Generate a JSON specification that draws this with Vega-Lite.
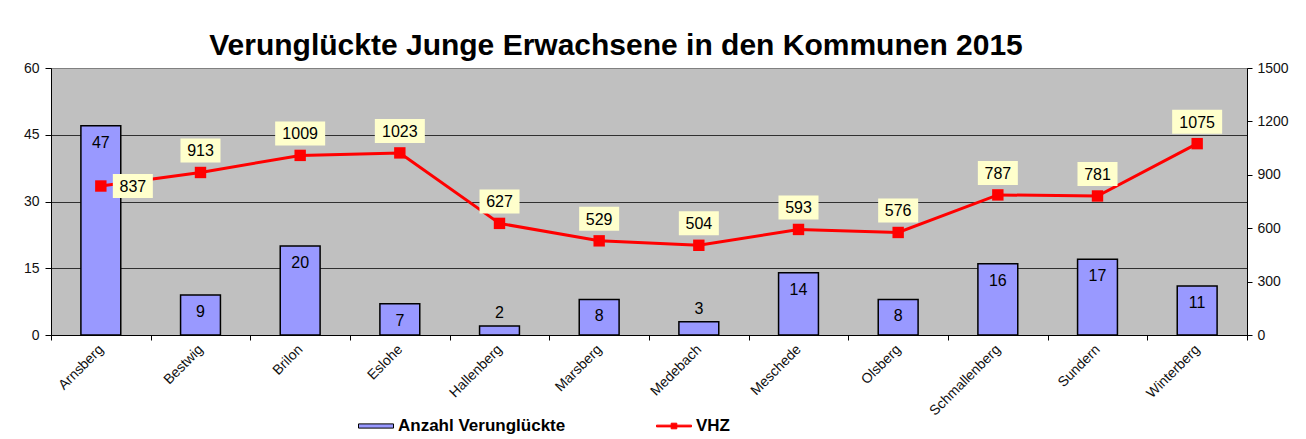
{
  "$schema": "https://vega.github.io/schema/vega-lite/v6.json",
  "width": 1196,
  "height": 267,
  "autosize": {"type": "none"},
  "padding": {"left": 51, "top": 68, "right": 59, "bottom": 104},
  "background": "white",
  "config": {
    "view": {"stroke": "#808080", "strokeWidth": 1, "fill": "#c0c0c0"},
    "font": "Liberation Sans",
    "axis": {"labelFont": "Liberation Sans", "labelColor": "#111", "labelFontSize": 14, "domainColor": "#000", "tickColor": "#000", "domainWidth": 1, "tickWidth": 1}
  },
  "title": {
    "text": "Verunglückte Junge Erwachsene in den Kommunen 2015",
    "font": "Liberation Sans", "fontSize": 30, "fontWeight": "bold", "color": "#000",
    "frame": "group", "anchor": "middle", "dx": -33, "dy": 35, "baseline": "alphabetic", "offset": 11
  },
  "data": {
    "values": [
      {"Gemeinde": "Arnsberg", "Anzahl": 47, "VHZ": 837},
      {"Gemeinde": "Bestwig", "Anzahl": 9, "VHZ": 913},
      {"Gemeinde": "Brilon", "Anzahl": 20, "VHZ": 1009},
      {"Gemeinde": "Eslohe", "Anzahl": 7, "VHZ": 1023},
      {"Gemeinde": "Hallenberg", "Anzahl": 2, "VHZ": 627},
      {"Gemeinde": "Marsberg", "Anzahl": 8, "VHZ": 529},
      {"Gemeinde": "Medebach", "Anzahl": 3, "VHZ": 504},
      {"Gemeinde": "Meschede", "Anzahl": 14, "VHZ": 593},
      {"Gemeinde": "Olsberg", "Anzahl": 8, "VHZ": 576},
      {"Gemeinde": "Schmallenberg", "Anzahl": 16, "VHZ": 787},
      {"Gemeinde": "Sundern", "Anzahl": 17, "VHZ": 781},
      {"Gemeinde": "Winterberg", "Anzahl": 11, "VHZ": 1075}
    ]
  },
  "encoding": {
    "x": {
      "field": "Gemeinde", "type": "nominal", "sort": null,
      "scale": {"paddingInner": 0, "paddingOuter": 0},
      "axis": {"title": null, "labelAngle": -45, "labelAlign": "right", "labelBaseline": "middle", "tickBand": "extent", "tickSize": 5, "labelPadding": 7, "grid": false}
    }
  },
  "layer": [
    {
      "encoding": {
        "y": {
          "field": "Anzahl", "type": "quantitative",
          "scale": {"domain": [0, 60], "nice": false},
          "axis": {
            "title": null, "orient": "left", "values": [0, 15, 30, 45, 60],
            "tickSize": 6, "labelPadding": 6, "grid": true, "gridWidth": 1,
            "gridColor": {"condition": {"test": "datum.value === 60", "value": "#808080"}, "value": "#303030"}
          }
        }
      },
      "layer": [
        {
          "mark": {"type": "bar", "stroke": "#000", "strokeWidth": 1.5, "width": {"band": 0.4}},
          "encoding": {
            "color": {
              "datum": "Anzahl Verunglückte",
              "scale": {"domain": ["Anzahl Verunglückte", "VHZ"], "range": ["#9999ff", "#ff0000"]},
              "legend": {
                "orient": "none", "legendX": 307, "legendY": 340, "direction": "horizontal",
                "title": null, "padding": 0, "symbolSize": 1225, "labelLimit": 0,
                "symbolType": {"expr": "datum.value === 'VHZ' ? 'M-1,-0.05H1V0.05H-1Z M-0.16,-0.16H0.16V0.16H-0.16Z' : 'M-1,-0.12H1V0.12H-1Z'"},
                "symbolStrokeColor": {"expr": "datum.value === 'VHZ' ? '#ff0000' : '#000000'"},
                "symbolStrokeWidth": 1,
                "symbolOpacity": 1,
                "labelFont": "Liberation Sans", "labelFontSize": 17, "labelFontWeight": "bold", "labelColor": "#000",
                "labelOffset": 4, "columnPadding": 88
              }
            }
          }
        },
        {
          "transform": [{"filter": "datum.Anzahl >= 5"}],
          "mark": {"type": "text", "fontSize": 16, "font": "Liberation Sans", "color": "#000", "baseline": "middle", "dy": 17},
          "encoding": {"text": {"field": "Anzahl", "type": "quantitative"}}
        },
        {
          "transform": [{"filter": "datum.Anzahl < 5"}],
          "mark": {"type": "text", "fontSize": 16, "font": "Liberation Sans", "color": "#000", "baseline": "middle", "dy": -13},
          "encoding": {"text": {"field": "Anzahl", "type": "quantitative"}}
        }
      ]
    },
    {
      "encoding": {
        "y": {
          "field": "VHZ", "type": "quantitative",
          "scale": {"domain": [0, 1500], "nice": false},
          "axis": {"title": null, "orient": "right", "values": [0, 300, 600, 900, 1200, 1500], "format": "d", "tickSize": 5, "labelPadding": 5, "grid": false}
        }
      },
      "layer": [
        {
          "mark": {"type": "line", "strokeWidth": 3, "color": "#ff0000"},
          "encoding": {}
        },
        {
          "mark": {"type": "point", "shape": "square", "filled": true, "size": 130, "fill": "#ff0000", "opacity": 1, "strokeWidth": 0}
        },
        {
          "transform": [{"filter": "datum.Gemeinde !== 'Arnsberg'"}],
          "mark": {"type": "point", "filled": true, "fill": "#ffffcc", "opacity": 1, "strokeWidth": 0, "size": 2500, "yOffset": -22},
          "encoding": {"shape": {"condition": {"test": "datum.VHZ >= 1000", "value": "M-1,-0.48H1V0.48H-1Z"}, "value": "M-0.8,-0.48H0.8V0.48H-0.8Z"}}
        },
        {
          "transform": [{"filter": "datum.Gemeinde === 'Arnsberg'"}],
          "mark": {"type": "point", "filled": true, "fill": "#ffffcc", "opacity": 1, "strokeWidth": 0, "size": 2500, "xOffset": 32},
          "encoding": {"shape": {"value": "M-0.8,-0.48H0.8V0.48H-0.8Z"}}
        },
        {
          "transform": [{"filter": "datum.Gemeinde !== 'Arnsberg'"}],
          "mark": {"type": "text", "fontSize": 16, "font": "Liberation Sans", "color": "#000", "baseline": "middle", "yOffset": -21},
          "encoding": {"text": {"field": "VHZ", "type": "quantitative", "format": "d"}}
        },
        {
          "transform": [{"filter": "datum.Gemeinde === 'Arnsberg'"}],
          "mark": {"type": "text", "fontSize": 16, "font": "Liberation Sans", "color": "#000", "baseline": "middle", "xOffset": 32, "yOffset": 1},
          "encoding": {"text": {"field": "VHZ", "type": "quantitative", "format": "d"}}
        }
      ]
    }
  ],
  "resolve": {"scale": {"y": "independent"}, "axis": {"y": "independent"}}
}
